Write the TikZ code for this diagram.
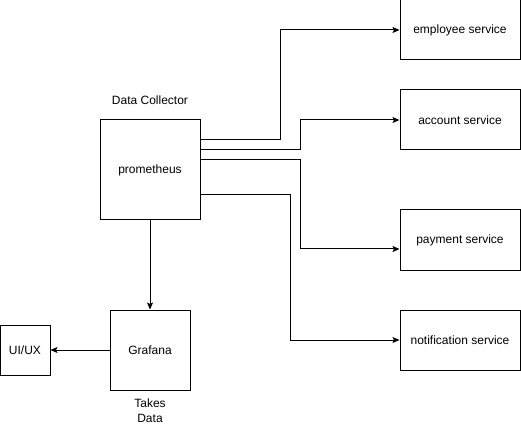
\documentclass[tikz,border=0pt]{standalone}
\usepackage{fontspec}
\setmainfont{Liberation Sans}
\usetikzlibrary{arrows.meta,calc}
\begin{document}
\begin{tikzpicture}[x=1pt,y=-1pt,
  box/.style={draw=black,line width=1pt,inner sep=0pt,font=\fontsize{12}{14}\selectfont,align=center},
  lbl/.style={inner sep=0pt,font=\fontsize{12}{15}\selectfont,align=center},
  conn/.style={draw=black,line width=1pt,-{Stealth[length=7pt,width=6pt,inset=1.5pt]}}]
\useasboundingbox (0,0) rectangle (521,427);
\fill[white] (0,0) rectangle (521,427);
\node[box,minimum width=100pt,minimum height=100pt] (prom) at (150,170) {prometheus};
\node[box,minimum width=80pt,minimum height=80pt] (graf) at (150,350) {Grafana};
\node[box,minimum width=50pt,minimum height=50pt] (ui) at (25,350) {UI/UX};
\node[box,minimum width=120pt,minimum height=60pt] (emp) at (460,30) {employee service};
\node[box,minimum width=120pt,minimum height=60pt] (acc) at (460,120) {account service};
\node[box,minimum width=120pt,minimum height=60pt] (pay) at (460,240) {payment service};
\node[box,minimum width=120pt,minimum height=60pt] (noti) at (460,340) {notification service};
\node[lbl] (dc) at (150,100) {Data Collector};
\node[lbl] (td) at (150,410.5) {Takes\\Data};
\draw[conn] (prom.east |- 0,140) -- (280,140) -- (emp.west -| 280,0) -- (emp.west);
\draw[conn] (prom.east |- 0,150) -- (300,150) -- (acc.west -| 300,0) -- (acc.west);
\draw[conn] (prom.east |- 0,160) -- (300,160) -- (300,249) -- (pay.west |- 0,249);
\draw[conn] (prom.east |- 0,195) -- (290,195) -- (noti.west -| 290,0) -- (noti.west);
\draw[conn] (prom.south) -- (graf.north);
\draw[conn] (graf.west) -- (ui.east);
\end{tikzpicture}
\end{document}
